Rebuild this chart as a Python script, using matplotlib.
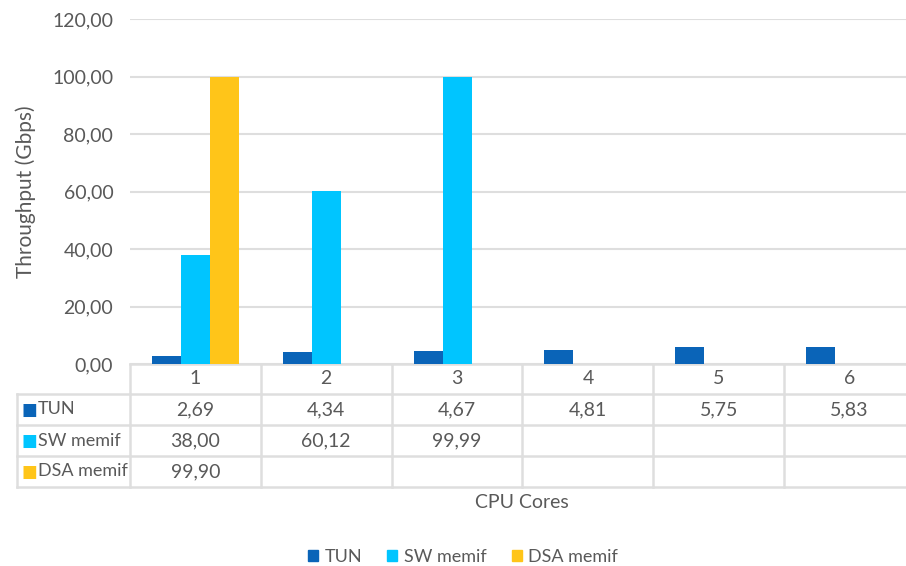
import matplotlib.pyplot as plt
from matplotlib.transforms import blended_transform_factory
from matplotlib.lines import Line2D

plt.rcParams['font.family'] = ['Lato', 'DejaVu Sans']

cores = ["1", "2", "3", "4", "5", "6"]
tun = [2.69, 4.34, 4.67, 4.81, 5.75, 5.83]
sw_memif = [38.00, 60.12, 99.99, None, None, None]
dsa_memif = [99.90, None, None, None, None, None]

series = [("TUN", tun, "#0A64B8"),
          ("SW memif", sw_memif, "#00C5FF"),
          ("DSA memif", dsa_memif, "#FFC519")]

text_color = "#595959"
line_color = "#DEDEDE"
fs = 14
fs_small = 13

def fmt(v):
    return "" if v is None else f"{v:.2f}".replace(".", ",")

W, H = 906, 566
fig = plt.figure(figsize=(W / 100, H / 100), dpi=100)
ax = fig.add_axes([130 / W, 1 - 364 / H, 785 / W, 345 / H])

bw = 0.222
xs = list(range(len(cores)))
for i, (name, vals, col) in enumerate(series):
    for x, v in zip(xs, vals):
        if v is not None:
            ax.bar(x + (i - 1) * bw, v, width=bw, color=col, zorder=3)

ax.set_xlim(-0.5, len(cores) - 0.5)
ax.set_ylim(0, 120)
ax.set_yticks(range(0, 121, 20))
ax.set_yticklabels([fmt(float(t)) for t in range(0, 121, 20)])
ax.tick_params(axis="y", length=0, pad=12, labelsize=fs, labelcolor=text_color)
ax.set_xticks([])
ax.grid(axis="y", color=line_color, linewidth=1.5, zorder=0)
for s in ax.spines.values():
    s.set_visible(False)
ax.set_ylabel("Throughput (Gbps)", fontsize=15, color=text_color, labelpad=12)

# data table below the axis
px = 1 / 345
trans = blended_transform_factory(ax.transData, ax.transAxes)
rows_y = [0, -30 * px, -61 * px, -92 * px, -123 * px]
left_x = -0.5 - 113 / 130.8
right_x = len(cores) - 0.5

def hline(x0, x1, y):
    ax.add_line(Line2D([x0, x1], [y, y], transform=trans, color=line_color,
                       linewidth=1.8, clip_on=False))

def vline(x, y0, y1):
    ax.add_line(Line2D([x, x], [y0, y1], transform=trans, color=line_color,
                       linewidth=1.8, clip_on=False))

hline(-0.5, right_x, rows_y[0])
for y in rows_y[1:]:
    hline(left_x, right_x, y)
for k in range(len(cores) + 1):
    vline(k - 0.5, rows_y[0], rows_y[-1])
vline(left_x, rows_y[1], rows_y[-1])

for x, c in zip(xs, cores):
    ax.text(x, (rows_y[0] + rows_y[1]) / 2, c, transform=trans, ha="center",
            va="center", fontsize=fs, color=text_color)

for r, (name, vals, col) in enumerate(series):
    yc = (rows_y[r + 1] + rows_y[r + 2]) / 2
    ax.text(left_x + 5 / 130.8, yc, "\u25A0", transform=trans, ha="left",
            va="center", fontsize=12, color=col, family="DejaVu Sans")
    ax.text(left_x + 21 / 130.8, yc, name, transform=trans, ha="left",
            va="center", fontsize=fs_small, color=text_color)
    for x, v in zip(xs, vals):
        ax.text(x, yc, fmt(v), transform=trans, ha="center", va="center",
                fontsize=fs, color=text_color)

fig.text(522 / W, 1 - 503 / H, "CPU Cores", ha="center", va="center",
         fontsize=fs, color=text_color)

# legend
handles = [plt.Rectangle((0, 0), 1, 1, color=col) for _, _, col in series]
fig.legend(handles, [s[0] for s in series], loc="center",
           bbox_to_anchor=(463 / W, 1 - 557 / H), ncol=3, frameon=False,
           fontsize=fs_small, labelcolor=text_color, handlelength=0.55,
           handleheight=0.55, handletextpad=0.35, columnspacing=1.4)

fig.savefig("out.png", dpi=100)
